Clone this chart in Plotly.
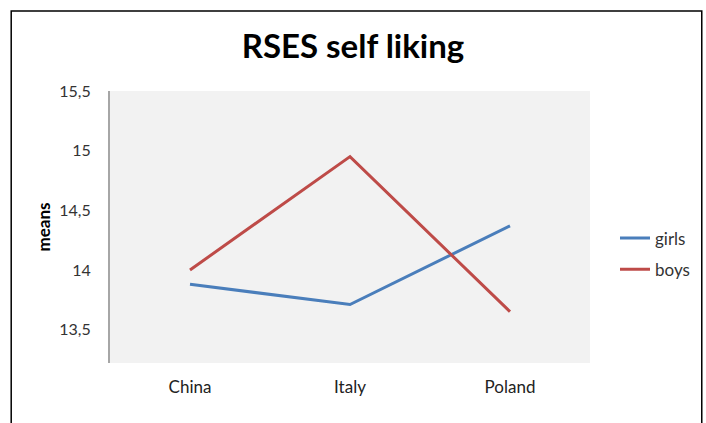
import plotly.graph_objects as go

countries = ["China", "Italy", "Poland"]
girls = [13.88, 13.71, 14.37]
boys = [14.00, 14.95, 13.65]
y_ticks = [13.5, 14, 14.5, 15, 15.5]

fig = go.Figure()
fig.add_trace(go.Scatter(x=countries, y=girls, mode="lines", name="girls",
                         line=dict(color="#4a7ebb", width=3), legendgroup="g"))
fig.add_trace(go.Scatter(x=countries, y=boys, mode="lines", name="boys",
                         line=dict(color="#be4b48", width=3), legendgroup="b"))

font_family = "Lato, 'Open Sans', sans-serif"
fig.update_layout(
    width=706, height=423,
    margin=dict(l=110, r=115, t=91, b=60),
    paper_bgcolor="white",
    plot_bgcolor="#f2f2f2",
    separators=", ",
    font=dict(family=font_family, size=15, color="#333333"),
    title=dict(text="<b>RSES self liking</b>", x=0.5, xanchor="center",
               y=1 - 46 / 423, yanchor="middle",
               font=dict(size=33, color="#000000", family=font_family)),
    showlegend=True,
    legend=dict(x=(615 - 110) / 481, xanchor="left", y=(363 - 254) / 272, yanchor="middle",
                font=dict(size=17, color="#333333"), tracegroupgap=6,
                bgcolor="rgba(0,0,0,0)"),
    xaxis=dict(range=[-0.5, 2.5], showgrid=False, zeroline=False, showline=False,
               ticks="outside", ticklen=9, tickcolor="rgba(0,0,0,0)",
               tickfont=dict(size=17, color="#222222")),
    yaxis=dict(range=[13.22, 15.5], tickvals=y_ticks, showgrid=False,
               zeroline=False, showline=True, linecolor="#a6a6a6", linewidth=2,
               ticks="outside", ticklen=14, tickcolor="rgba(0,0,0,0)",
               tickfont=dict(size=16, color="#333333"),
               title=dict(text="<b>means</b>", standoff=4,
                          font=dict(size=17, color="#000000"))),
    shapes=[dict(type="rect", xref="paper", yref="paper",
                 x0=(11 - 110) / 481, x1=(703 - 110) / 481,
                 y0=(363 - 440) / 272, y1=(363 - 11) / 272,
                 line=dict(color="#000000", width=1.5), layer="below")],
)

fig.write_html("out.html")
